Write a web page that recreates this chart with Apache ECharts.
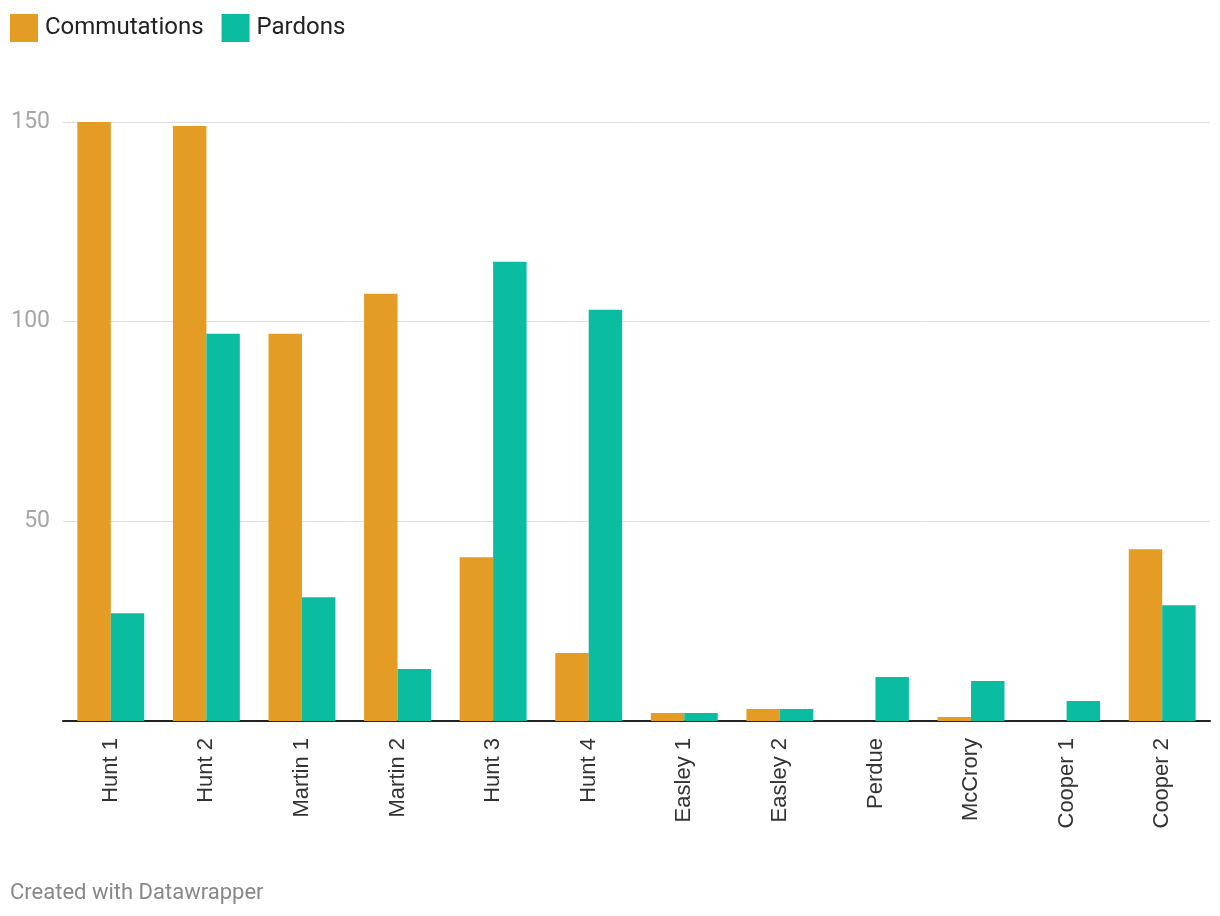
<!DOCTYPE html>
<html><head><meta charset="utf-8">
<script src="https://cdn.jsdelivr.net/npm/echarts@6/dist/echarts.min.js"></script>
<style>html,body{margin:0;padding:0;background:#fff}#c{width:1220px;height:916px}</style>
</head><body><div id="c"></div>
<script>
const categories = ["Hunt 1","Hunt 2","Martin 1","Martin 2","Hunt 3","Hunt 4","Easley 1","Easley 2","Perdue","McCrory","Cooper 1","Cooper 2"];
const commutations = [150,149,97,107,41,17,2,3,0,1,0,43];
const pardons = [27,97,31,13,115,103,2,3,11,10,5,29];
const yTicks = [0,50,100,150];

const chart = echarts.init(document.getElementById('c'), null, {renderer:'canvas'});
chart.setOption({
  animation:false,
  color:['#e59c24','#0abda0'],
  legend:{left:10, top:14, padding:0, itemWidth:28, itemHeight:28, itemGap:18, icon:'rect',
    textStyle:{fontFamily:'Roboto', fontSize:24, color:'#222', padding:[0,0,0,2]},
    data:['Commutations','Pardons']},
  graphic:[{type:'text', left:10, top:882, style:{text:'Created with Datawrapper', font:'22px Roboto', fill:'#888'}}],
  grid:{left:63, right:10, top:122, bottom:195, containLabel:false},
  xAxis:{type:'category', data:categories,
    axisLine:{lineStyle:{color:'#222', width:2}}, axisTick:{show:false},
    axisLabel:{rotate:90, margin:17, fontFamily:'Liberation Sans', fontSize:22, color:'#333', interval:0}},
  yAxis:{type:'value', min:0, max:150, interval:50,
    axisLine:{show:false}, axisTick:{show:false},
    splitLine:{lineStyle:{color:'#dedede', width:1}},
    axisLabel:{margin:13, fontFamily:'Roboto', fontSize:23, color:'#a6a6a6',
      formatter:v=> (v===0?'':String(v))}},
  series:[
    {name:'Commutations', type:'bar', data:commutations, barGap:'0%', barCategoryGap:'30%'},
    {name:'Pardons', type:'bar', data:pardons, barGap:'0%', barCategoryGap:'30%'}
  ]
});
</script></body></html>
